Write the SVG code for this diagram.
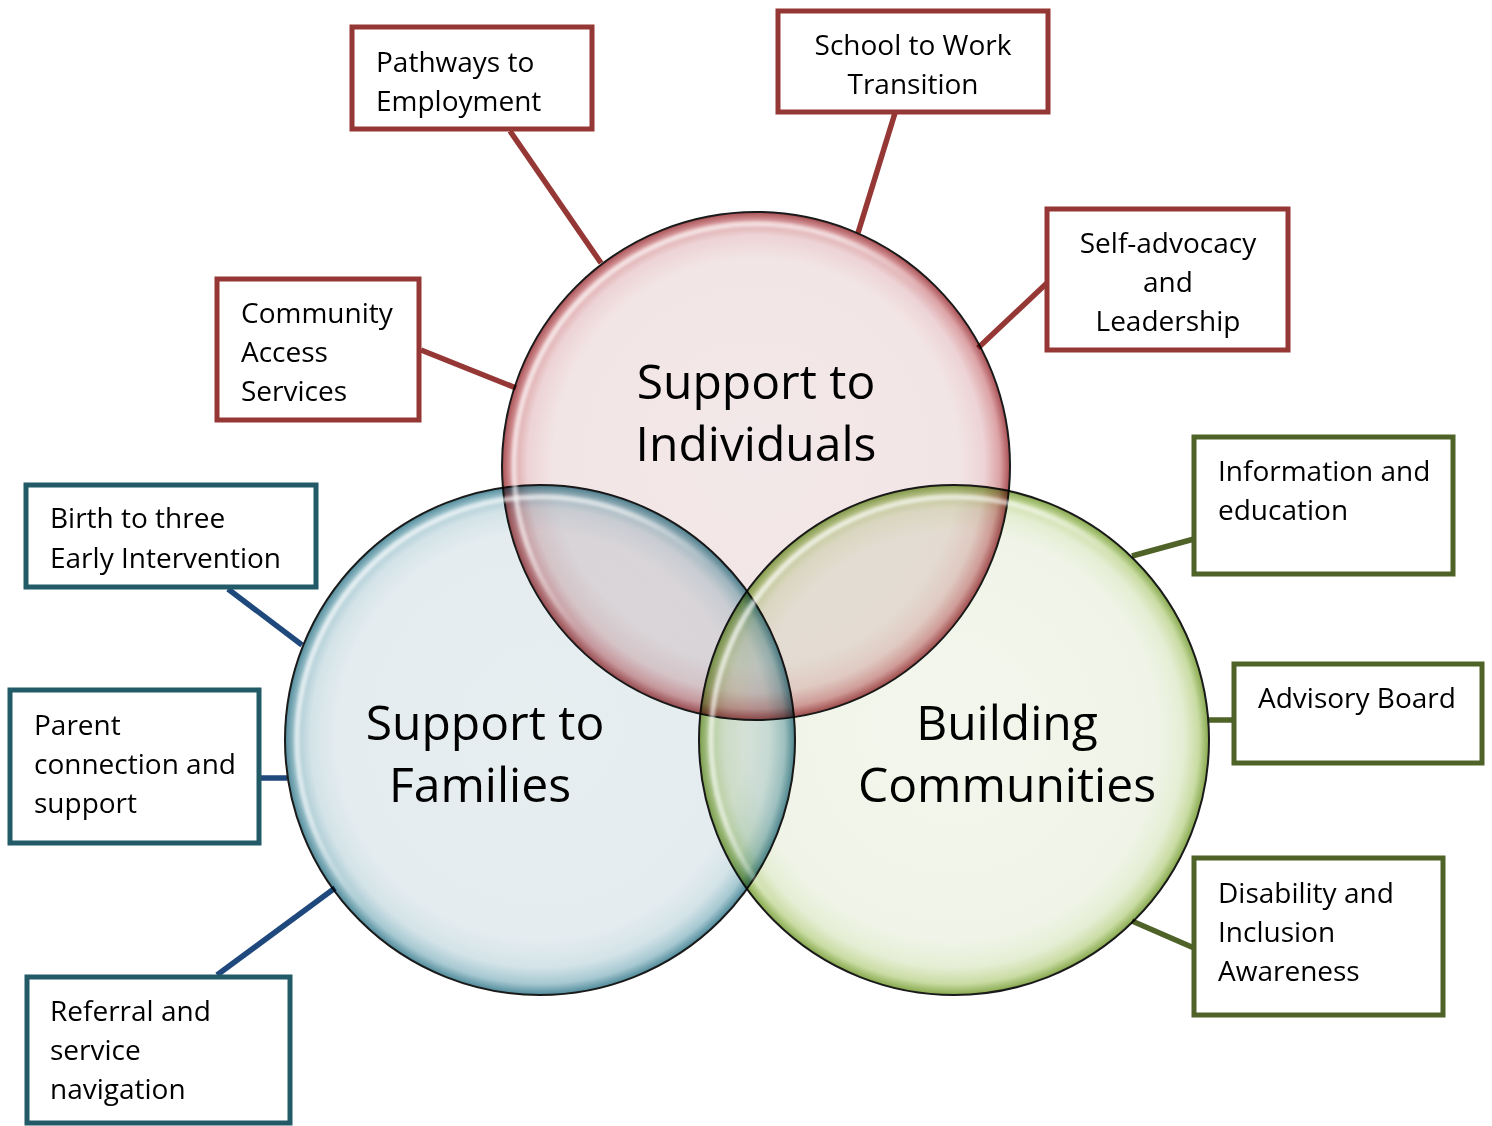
<svg xmlns="http://www.w3.org/2000/svg" width="1492" height="1126" viewBox="0 0 1492 1126">
<style>
.box{fill:#fff;stroke-width:5}
.r{stroke:#953735}
.t{stroke:#235A68}
.g{stroke:#4F6228}
.lbl{font-family:"Open Sans","Noto Sans",sans-serif;font-size:28px;fill:#000}
.big{font-family:"Open Sans","Noto Sans",sans-serif;font-size:48px;fill:#000;text-anchor:middle}
.ring{stroke:#1a1a1a;stroke-width:2;mix-blend-mode:multiply}
.hl{fill:none;stroke-width:5;filter:url(#blur)}
.conn line{stroke-width:5.5}
</style>
<defs>
<radialGradient id="gRed" cx="0.5" cy="0.5" r="0.5" fx="0.5" fy="0.46">
<stop offset="0" stop-color="#F3E8E9"/><stop offset="0.8" stop-color="#F2E5E6"/><stop offset="0.9" stop-color="#EDD3D5"/><stop offset="0.96" stop-color="#DCA3A6"/><stop offset="1" stop-color="#A84E52"/>
</radialGradient>
<radialGradient id="gBlue" cx="0.5" cy="0.5" r="0.5" fx="0.5" fy="0.46">
<stop offset="0" stop-color="#E6EEF0"/><stop offset="0.8" stop-color="#E4ECEF"/><stop offset="0.9" stop-color="#D3E3E8"/><stop offset="0.96" stop-color="#A6C8D1"/><stop offset="1" stop-color="#4F8A9A"/>
</radialGradient>
<radialGradient id="gGreen" cx="0.5" cy="0.5" r="0.5" fx="0.5" fy="0.46">
<stop offset="0" stop-color="#F2F6EC"/><stop offset="0.8" stop-color="#F0F4E8"/><stop offset="0.9" stop-color="#E5EED4"/><stop offset="0.96" stop-color="#C9DCA3"/><stop offset="1" stop-color="#86A84C"/>
</radialGradient>
<linearGradient id="hlg" x1="0" y1="0" x2="1" y2="1">
<stop offset="0" stop-color="#fff" stop-opacity="0.95"/><stop offset="0.35" stop-color="#fff" stop-opacity="0.7"/><stop offset="0.5" stop-color="#fff" stop-opacity="0"/>
</linearGradient>
<filter id="blur" x="-10%" y="-10%" width="120%" height="120%"><feGaussianBlur stdDeviation="1.5"/></filter>
</defs>
<rect width="1492" height="1126" fill="#fff"/>

<g id="connectors" class="conn">
<line x1="510" y1="131" x2="601" y2="263" stroke="#953735"/>
<line x1="895" y1="113" x2="858" y2="233" stroke="#953735"/>
<line x1="1047" y1="283" x2="978" y2="348" stroke="#953735"/>
<line x1="421" y1="350" x2="516" y2="388" stroke="#953735"/>
<line x1="228" y1="589" x2="302" y2="645" stroke="#1F497D"/>
<line x1="259" y1="778" x2="287" y2="778" stroke="#1F497D"/>
<line x1="217" y1="975" x2="335" y2="888" stroke="#1F497D"/>
<line x1="1194" y1="539" x2="1132" y2="556" stroke="#4F6228"/>
<line x1="1209" y1="720" x2="1234" y2="720" stroke="#4F6228"/>
<line x1="1132" y1="921" x2="1194" y2="948" stroke="#4F6228"/>
</g>

<g id="support-individuals">
<circle class="ring" cx="756" cy="466" r="254" fill="url(#gRed)"/>
</g>
<g id="support-families">
<circle class="ring" cx="540" cy="740" r="255" fill="url(#gBlue)"/>
</g>
<g id="building-communities">
<circle class="ring" cx="954" cy="740" r="255" fill="url(#gGreen)"/>
</g>
<g id="highlights">
<circle class="hl" cx="756" cy="466" r="242" stroke="url(#hlg)" opacity="0.8"/>
<circle class="hl" cx="540" cy="740" r="243" stroke="url(#hlg)" opacity="0.8"/>
<circle class="hl" cx="954" cy="740" r="243" stroke="url(#hlg)" opacity="0.8"/>
</g>
<g id="circle-labels">
<text class="big" x="756" y="399">Support to</text>
<text class="big" x="756" y="461">Individuals</text>
<text class="big" x="485" y="740">Support to</text>
<text class="big" x="480" y="802">Families</text>
<text class="big" x="1007" y="740">Building</text>
<text class="big" x="1007" y="802">Communities</text>
</g>

<g id="pathways">
<rect class="box r" x="352" y="27" width="240" height="102"/>
<text class="lbl" x="376" y="72">Pathways to</text>
<text class="lbl" x="376" y="111">Employment</text>
</g>
<g id="school-to-work">
<rect class="box r" x="778" y="11" width="270" height="101"/>
<text class="lbl" x="913" y="55" text-anchor="middle">School to Work</text>
<text class="lbl" x="913" y="94" text-anchor="middle">Transition</text>
</g>
<g id="self-advocacy">
<rect class="box r" x="1047" y="209" width="241" height="141"/>
<text class="lbl" x="1168" y="253" text-anchor="middle">Self-advocacy</text>
<text class="lbl" x="1168" y="292" text-anchor="middle">and</text>
<text class="lbl" x="1168" y="331" text-anchor="middle">Leadership</text>
</g>
<g id="community-access">
<rect class="box r" x="217" y="279" width="202" height="141"/>
<text class="lbl" x="241" y="323">Community</text>
<text class="lbl" x="241" y="362">Access</text>
<text class="lbl" x="241" y="401">Services</text>
</g>
<g id="birth-to-three">
<rect class="box t" x="26" y="485" width="290" height="102"/>
<text class="lbl" x="50" y="528">Birth to three</text>
<text class="lbl" x="50" y="568">Early Intervention</text>
</g>
<g id="parent-connection">
<rect class="box t" x="10" y="690" width="249" height="153"/>
<text class="lbl" x="34" y="735">Parent</text>
<text class="lbl" x="34" y="774">connection and</text>
<text class="lbl" x="34" y="813">support</text>
</g>
<g id="referral">
<rect class="box t" x="27" y="977" width="263" height="146"/>
<text class="lbl" x="50" y="1021">Referral and</text>
<text class="lbl" x="50" y="1060">service</text>
<text class="lbl" x="50" y="1099">navigation</text>
</g>
<g id="information">
<rect class="box g" x="1194" y="437" width="259" height="137"/>
<text class="lbl" x="1218" y="481">Information and</text>
<text class="lbl" x="1218" y="520">education</text>
</g>
<g id="advisory-board">
<rect class="box g" x="1234" y="664" width="248" height="99"/>
<text class="lbl" x="1258" y="708">Advisory Board</text>
</g>
<g id="disability-inclusion">
<rect class="box g" x="1194" y="858" width="249" height="157"/>
<text class="lbl" x="1218" y="903">Disability and</text>
<text class="lbl" x="1218" y="942">Inclusion</text>
<text class="lbl" x="1218" y="981">Awareness</text>
</g>
</svg>
